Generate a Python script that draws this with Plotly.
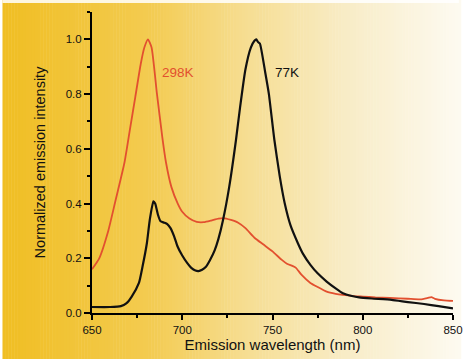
import plotly.graph_objects as go

# ---- data ----
wl_298 = [650, 654, 659, 663, 668, 671, 674, 677, 679, 681, 683, 686, 689, 691, 694, 697.5, 700, 704, 708, 712,
          716, 720, 723, 727, 731, 735, 740, 745, 750, 755, 758, 761, 763, 766, 771, 775, 780, 785, 789,
          795, 800, 807, 815, 825, 832, 836, 838, 840, 845, 850]
int_298 = [0.16, 0.20, 0.30, 0.41, 0.55, 0.67, 0.79, 0.91, 0.97, 1.00, 0.97, 0.80, 0.64, 0.55, 0.46, 0.40, 0.37,
           0.345, 0.333, 0.332, 0.338, 0.345, 0.347, 0.34, 0.33, 0.31, 0.275, 0.25, 0.225, 0.195, 0.18,
           0.172, 0.165, 0.14, 0.11, 0.095, 0.078, 0.07, 0.066, 0.062, 0.06, 0.057, 0.055, 0.052, 0.05,
           0.055, 0.058, 0.052, 0.046, 0.044]

wl_77 = [650, 660, 666, 669, 672, 676, 678, 680.4, 682, 684, 685, 686.5, 688, 690, 691.7, 693.5, 695.5,
         697.4, 700, 702.8, 705, 707.3, 709, 711, 713, 715.4, 718, 720, 722.6, 726, 729.8, 732, 735, 738,
         740, 741, 742, 743, 746, 748, 751, 754, 756.7, 760, 764, 767, 771, 775, 780, 785, 789, 794, 798,
         805, 816, 825, 834, 842, 850]
int_77 = [0.022, 0.022, 0.025, 0.035, 0.06, 0.11, 0.17, 0.255, 0.34, 0.408, 0.40, 0.36, 0.335, 0.33,
          0.325, 0.31, 0.28, 0.243, 0.21, 0.182, 0.165, 0.155, 0.153, 0.158, 0.168, 0.194, 0.23, 0.27,
          0.34, 0.46, 0.634, 0.75, 0.89, 0.97, 0.995, 1.0, 0.99, 0.985, 0.878, 0.80, 0.634, 0.50, 0.403,
          0.32, 0.256, 0.215, 0.176, 0.145, 0.115, 0.09, 0.072, 0.062, 0.057, 0.053, 0.048, 0.04, 0.033,
          0.025, 0.017]

labels = ["298K", "77K"]
label_x = [687.5, 750.5]
label_y = [0.88, 0.88]

RED = "#e2502f"
BLACK = "#111111"

W, H = 469, 359
L, R, T, B = 92, 6, 12, 46
pw, ph = W - L - R, H - T - B

fig = go.Figure()
fig.add_trace(go.Scatter(x=wl_298, y=int_298, mode="lines", line=dict(color=RED, width=1.8, shape="spline", smoothing=0.5),
                         showlegend=False, hoverinfo="skip"))
fig.add_trace(go.Scatter(x=wl_77, y=int_77, mode="lines", line=dict(color=BLACK, width=2.2, shape="spline", smoothing=0.5),
                         showlegend=False, hoverinfo="skip"))

# background gradient (styling)
stops = [(0.0, (240, 190, 35)), (0.32, (243, 203, 80)), (0.53, (246, 221, 145)),
         (0.75, (248, 236, 198)), (1.0, (253, 250, 240))]

def col(t):
    for (t0, c0), (t1, c1) in zip(stops[:-1], stops[1:]):
        if t <= t1:
            f = (t - t0) / (t1 - t0)
            return "rgb(%d,%d,%d)" % tuple(round(a + (b - a) * f) for a, b in zip(c0, c1))
    return "rgb(%d,%d,%d)" % stops[-1][1]

shapes = []
step = 3
for px in range(0, W, step):
    t = (px + step / 2) / W
    shapes.append(dict(type="rect", xref="paper", yref="paper", layer="below",
                       x0=(px - L) / pw, x1=(px + step + 0.5 - L) / pw,
                       y0=(T + ph - H) / ph, y1=(T + ph) / ph,
                       fillcolor=col(t), line=dict(width=0)))
shapes.append(dict(type="rect", xref="paper", yref="paper", layer="below",
                   x0=-L / pw, x1=(W - L) / pw, y0=(T + ph - 3) / ph, y1=(T + ph) / ph,
                   fillcolor="rgba(255,255,255,0.85)", line=dict(width=0)))

annotations = []
for txt, x, y, c in zip(labels, label_x, label_y, [RED, BLACK]):
    annotations.append(dict(x=x, y=y, text=txt, showarrow=False, xanchor="left", yanchor="middle",
                            font=dict(family="Liberation Sans", size=13.5, color=c)))

fig.update_layout(
    width=W, height=H, margin=dict(l=L, r=R, t=T, b=B),
    paper_bgcolor="white", plot_bgcolor="rgba(0,0,0,0)",
    shapes=shapes, annotations=annotations,
    font=dict(family="Liberation Sans", color="#1a1a1a"),
    xaxis=dict(range=[650, 850], showgrid=False, zeroline=False, showline=True, linecolor="black", linewidth=2,
               ticks="outside", ticklen=5, tickwidth=1.5, tickcolor="black", dtick=50, tick0=650,
               tickfont=dict(size=11.5, color="#111111"), ticklabeloverflow="allow",
               minor=dict(ticks="outside", ticklen=3, dtick=25, tickcolor="black", tickwidth=1.5),
               title=dict(text="Emission wavelength (nm)", font=dict(size=15, color="#111111"), standoff=4)),
    yaxis=dict(range=[0, 1.1], showgrid=False, zeroline=False, showline=True, linecolor="black", linewidth=2,
               ticks="outside", ticklen=6, tickwidth=1.5, tickcolor="black", dtick=0.2, tick0=0,
               tickformat=".1f", tickfont=dict(size=11.5, color="#111111"),
               minor=dict(ticks="outside", ticklen=3, dtick=0.1, tickcolor="black", tickwidth=1.5),
               title=dict(text="Normalized emission intensity", font=dict(size=14.5, color="#111111"), standoff=17)),
)

fig.write_html("out.html")
